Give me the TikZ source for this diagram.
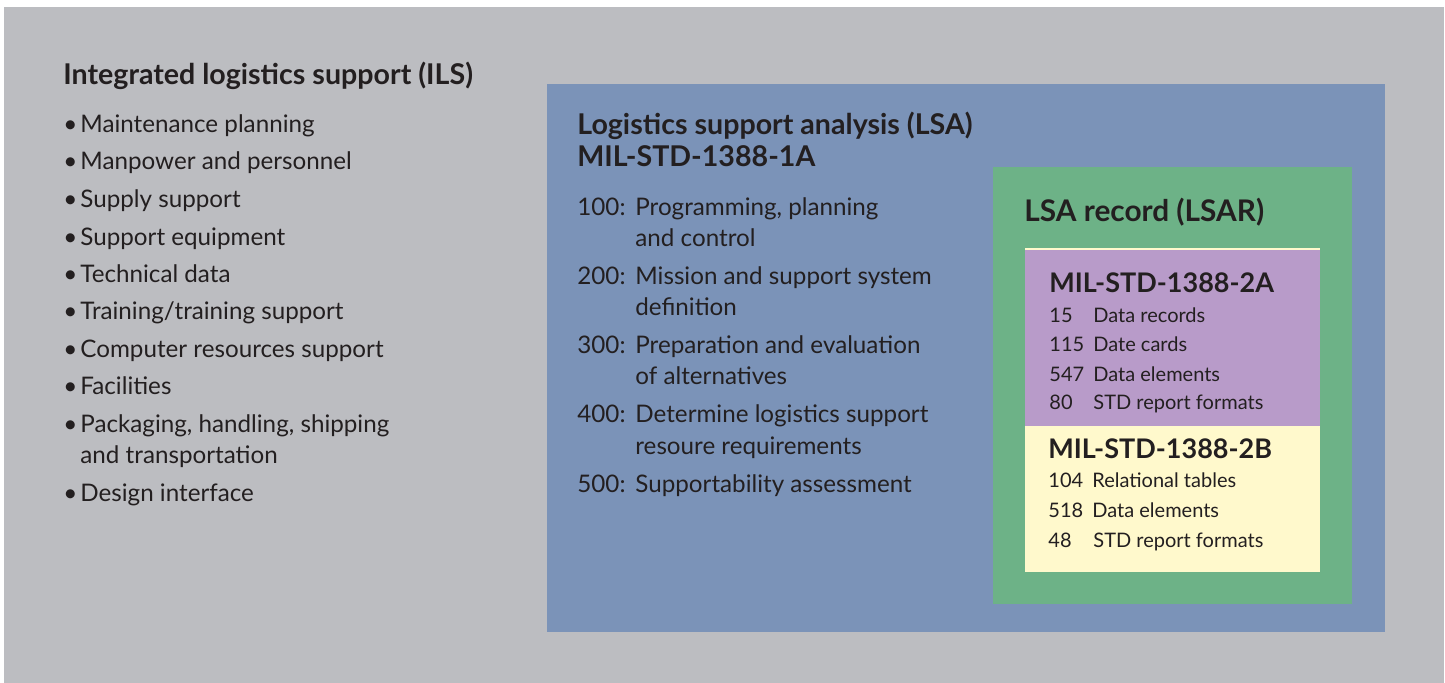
\documentclass[tikz,border=0pt]{standalone}
\usepackage{fontspec}
\setmainfont{Lato}
\definecolor{ink}{HTML}{231F20}
\definecolor{ilsgray}{HTML}{BCBDC1}
\definecolor{lsablue}{HTML}{7B93B8}
\definecolor{lsargreen}{HTML}{6DB287}
\definecolor{stdpurple}{HTML}{B89BC9}
\definecolor{stdyellow}{HTML}{FFF9CC}
\begin{document}
\begin{tikzpicture}[x=0.5pt,y=-0.5pt]
  \tikzstyle{head}=[anchor=base west,inner sep=0pt,text=ink,font=\fontsize{14.3}{17}\selectfont\bfseries]
  \tikzstyle{bighead}=[head,font=\fontsize{14.9}{18}\selectfont\bfseries]
  \tikzstyle{subhead}=[anchor=base west,inner sep=0pt,text=ink,font=\fontsize{13.5}{16}\selectfont\bfseries]
  \tikzstyle{item}=[anchor=base west,inner sep=0pt,text=ink,font=\fontsize{12.1}{14}\selectfont]
  \tikzstyle{small}=[anchor=base west,inner sep=0pt,text=ink,font=\fontsize{10}{12}\selectfont]
  \useasboundingbox (0,0) rectangle (1445,683);
  \fill[white] (0,0) rectangle (1445,683);
  \fill[ilsgray] (4,7) rectangle (1444,683);
  \fill[lsablue] (547,84) rectangle (1385,632);
  \fill[lsargreen] (993,167) rectangle (1352,604);
  \fill[stdyellow] (1025,248) rectangle (1320,572);
  \fill[stdpurple] (1025,250) rectangle (1320,426);
  % ILS
  \node[head] (ils) at (63,85) {Integrated logistics support (ILS)};
  \node[item] (ilsb1) at (63,133) {\textbullet};
  \node[item] (ils1) at (80,133) {Maintenance planning};
  \node[item] (ilsb2) at (63,170) {\textbullet};
  \node[item] (ils2) at (80,170) {Manpower and personnel};
  \node[item] (ilsb3) at (63,208) {\textbullet};
  \node[item] (ils3) at (80,208) {Supply support};
  \node[item] (ilsb4) at (63,246) {\textbullet};
  \node[item] (ils4) at (80,246) {Support equipment};
  \node[item] (ilsb5) at (63,283) {\textbullet};
  \node[item] (ils5) at (80,283) {Technical data};
  \node[item] (ilsb6) at (63,320) {\textbullet};
  \node[item] (ils6) at (80,320) {Training/training support};
  \node[item] (ilsb7) at (63,358) {\textbullet};
  \node[item] (ils7) at (80,358) {Computer resources support};
  \node[item] (ilsb8) at (63,395) {\textbullet};
  \node[item] (ils8) at (80,395) {Facilities};
  \node[item] (ilsb9) at (63,433) {\textbullet};
  \node[item] (ils9) at (80,433) {Packaging, handling, shipping};
  \node[item] (ils9b) at (80,464) {and transportation};
  \node[item] (ilsb10) at (63,502) {\textbullet};
  \node[item] (ils10) at (80,502) {Design interface};
  % LSA
  \node[head] (lsa) at (577,135) {Logistics support analysis (LSA)};
  \node[head] (lsa1a) at (577,167) {MIL-STD-1388-1A};
  \node[item] (n100) at (577,216) {100:};
  \node[item] (t100) at (635,216) {Programming, planning};
  \node[item] (t100b) at (635,247) {and control};
  \node[item] (n200) at (577,285) {200:};
  \node[item] (t200) at (635,285) {Mission and support system};
  \node[item] (t200b) at (635,316) {definition};
  \node[item] (n300) at (577,354) {300:};
  \node[item] (t300) at (635,354) {Preparation and evaluation};
  \node[item] (t300b) at (635,385) {of alternatives};
  \node[item] (n400) at (577,423) {400:};
  \node[item] (t400) at (635,423) {Determine logistics support};
  \node[item] (t400b) at (635,455) {resoure requirements};
  \node[item] (n500) at (577,493) {500:};
  \node[item] (t500) at (635,493) {Supportability assessment};
  % LSAR
  \node[bighead] (lsar) at (1024,222) {LSA record (LSAR)};
  \node[subhead] (std2a) at (1049,293) {MIL-STD-1388-2A};
  \node[small] (a1n) at (1049,323) {15};
  \node[small] (a1) at (1093,323) {Data records};
  \node[small] (a2n) at (1049,352) {115};
  \node[small] (a2) at (1093,352) {Date cards};
  \node[small] (a3n) at (1049,382) {547};
  \node[small] (a3) at (1093,382) {Data elements};
  \node[small] (a4n) at (1049,410) {80};
  \node[small] (a4) at (1093,410) {STD report formats};
  \node[subhead] (std2b) at (1048,459) {MIL-STD-1388-2B};
  \node[small] (b1n) at (1048,488) {104};
  \node[small] (b1) at (1092,488) {Relational tables};
  \node[small] (b2n) at (1048,517) {518};
  \node[small] (b2) at (1092,517) {Data elements};
  \node[small] (b3n) at (1048,547) {48};
  \node[small] (b3) at (1093,547) {STD report formats};
\end{tikzpicture}
\end{document}
